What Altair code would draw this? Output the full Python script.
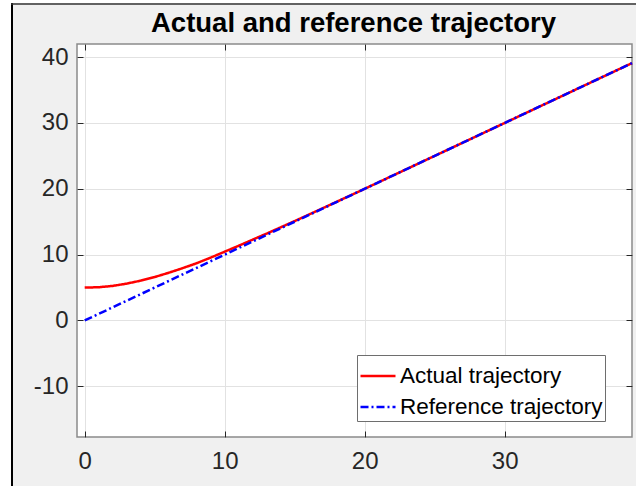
import altair as alt
import pandas as pd

# Trajectory samples
actual_x = [0, 1, 2, 3, 4, 5, 6, 7, 8, 9, 10, 11, 12, 13, 14, 15, 16, 17, 18, 19, 20, 22, 25, 30, 35, 39.1]
actual_y = [5.0, 5.05, 5.25, 5.6, 6.05, 6.6, 7.25, 7.95, 8.7, 9.55, 10.45, 11.35, 12.28, 13.2, 14.15,
            15.1, 16.07, 17.05, 18.03, 19.01, 20.0, 22.0, 25.0, 30.0, 35.0, 39.1]
ref_x = [0, 39.1]
ref_y = [0, 39.1]

series_names = ["Actual trajectory", "Reference trajectory"]
series_colors = ["#ff0000", "#0000ff"]
series_dash = [[1, 0], [8, 3, 2, 3]]
title_text = "Actual and reference trajectory"

x_ticks = [0, 10, 20, 30]
y_ticks = [-10, 0, 10, 20, 30, 40]
x_domain = [-0.55, 39.1]
y_domain = [-17.7, 42.0]

W, H = 555, 393
FONT = "Liberation Sans"
TEXT = "#262626"
HYPHEN_MINUS = "replace(datum.label, '\u2212', '-')"

rows = []
for i, (x, y) in enumerate(zip(actual_x, actual_y)):
    rows.append({"x": x, "y": y, "series": series_names[0], "idx": i})
for i, (x, y) in enumerate(zip(ref_x, ref_y)):
    rows.append({"x": x, "y": y, "series": series_names[1], "idx": i})
df = pd.DataFrame(rows)

xs = alt.Scale(domain=x_domain, nice=False, zero=False)
ys = alt.Scale(domain=y_domain, nice=False, zero=False)

legend = alt.Legend(
    title=None, orient="none", legendX=280, legendY=311,
    symbolType="stroke", symbolSize=1225, symbolStrokeWidth=2.5,
    labelFontSize=22.5, labelFont=FONT, labelColor="black", labelOffset=3, labelLimit=400,
    fillColor="white", strokeColor="#6e6e6e", padding=2, rowPadding=-3,
)

lines = alt.Chart(df).mark_line(strokeWidth=2.5).encode(
    x=alt.X("x:Q", scale=xs, axis=alt.Axis(
        values=x_ticks, title=None, grid=True, gridColor="#e2e2e2", ticks=False,
        domain=False, labelFontSize=24, labelFont=FONT, labelColor=TEXT,
        labelPadding=12, labelFlush=False, labelExpr=HYPHEN_MINUS)),
    y=alt.Y("y:Q", scale=ys, axis=alt.Axis(
        values=y_ticks, title=None, grid=True, gridColor="#e2e2e2", ticks=False,
        domain=False, labelFontSize=24, labelFont=FONT, labelColor=TEXT,
        labelPadding=9, labelFlush=False, labelExpr=HYPHEN_MINUS)),
    color=alt.Color("series:N", scale=alt.Scale(domain=series_names, range=series_colors), legend=legend),
    strokeDash=alt.StrokeDash("series:N", scale=alt.Scale(domain=series_names, range=series_dash), legend=legend),
    detail="series:N",
    order="idx:Q",
)

# Inward tick marks on the bottom and left edges
tick_axis = dict(labels=False, grid=False, domain=False, ticks=True, tickSize=6,
                 tickColor=TEXT, tickWidth=1, title=None)
ticks_bl = alt.Chart(df).mark_point(opacity=0).encode(
    x=alt.X("x:Q", scale=xs, axis=alt.Axis(orient="top", offset=-H, values=x_ticks, **tick_axis)),
    y=alt.Y("y:Q", scale=ys, axis=alt.Axis(orient="right", offset=-W, values=y_ticks, **tick_axis)),
)
# Inward tick marks on the top and right edges
ticks_tr = alt.Chart(df).mark_point(opacity=0).encode(
    x=alt.X("x:Q", scale=xs, axis=alt.Axis(orient="bottom", offset=-H, values=x_ticks, **tick_axis)),
    y=alt.Y("y:Q", scale=ys, axis=alt.Axis(orient="left", offset=-W, values=y_ticks, **tick_axis)),
)

# Figure window frame
one = pd.DataFrame({"k": [0]})
strip_left = alt.Chart(one).mark_rect(color="white").encode(
    x=alt.value(-77), x2=alt.value(-66), y=alt.value(-44), y2=alt.value(H + 49))
strip_top = alt.Chart(one).mark_rect(color="white").encode(
    x=alt.value(-77), x2=alt.value(W + 4), y=alt.value(-44), y2=alt.value(-41))
edge_left = alt.Chart(one).mark_rule(color="black", strokeWidth=2).encode(
    x=alt.value(-65), y=alt.value(-41), y2=alt.value(H + 49))
edge_top = alt.Chart(one).mark_rule(color="#333333", strokeWidth=1.5).encode(
    x=alt.value(-66), x2=alt.value(W + 4), y=alt.value(-40))

# Chart title, centred over the plot area
title = alt.Chart(one).mark_text(
    text=title_text, font=FONT, fontSize=27.5, fontWeight="bold", color="black",
    align="center", baseline="alphabetic",
).encode(x=alt.value(W / 2 - 1), y=alt.value(-12))

chart = alt.layer(
    strip_left, strip_top, edge_left, edge_top, title, lines, ticks_bl, ticks_tr
).resolve_axis(
    x="independent", y="independent"
).properties(
    width=W, height=H,
    autosize=alt.AutoSizeParams(type="none"),
    padding={"left": 77, "top": 44, "right": 4, "bottom": 49},
    background="#f0f0f0",
).configure_view(
    fill="white", stroke="#8a8a8a", strokeWidth=1.5
)

chart.save("out.html", embed_options={"renderer": "svg", "actions": False})
